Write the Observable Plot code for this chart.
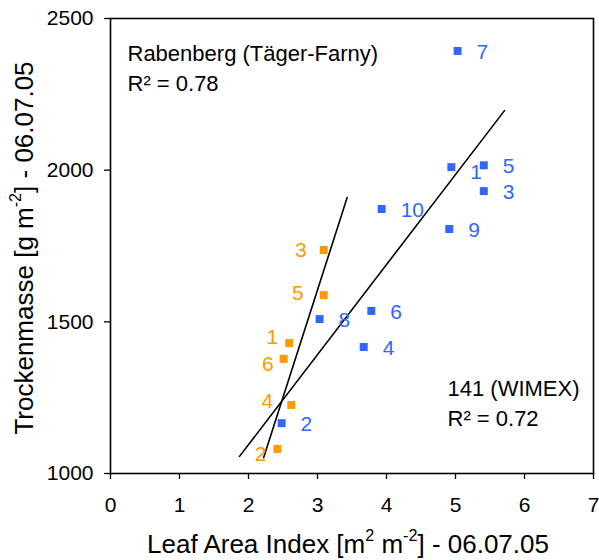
<!DOCTYPE html>
<html><head><meta charset="utf-8">
<script src="https://cdn.jsdelivr.net/npm/d3@7"></script>
<script src="https://cdn.jsdelivr.net/npm/@observablehq/plot@0.6"></script>
<style>
body{margin:0;background:#fff}
#chart{position:relative;width:599px;height:560px}
</style>
</head><body><div id="chart"></div>
<script>
// Rabenberg (Täger-Farny) – orange
const orangeIds  = [3, 5, 1, 6, 4, 2];
const orangeLAI  = [3.09, 3.09, 2.59, 2.51, 2.62, 2.42];
const orangeMass = [1737, 1588, 1430, 1378, 1226, 1081];
// 141 (WIMEX) – blue
const blueIds  = [7, 1, 5, 3, 10, 9, 8, 6, 4, 2];
const blueLAI  = [5.03, 4.94, 5.41, 5.41, 3.93, 4.91, 3.03, 3.78, 3.67, 2.48];
const blueMass = [2393, 2010, 2016, 1931, 1872, 1806, 1509, 1536, 1417, 1166];
// trend line x-extent (as drawn in the source)
const orangeTrendX = [2.22, 3.43];
const blueTrendX   = [1.87, 5.71];
// annotations
const groupNames = ["Rabenberg (Täger-Farny)", "141 (WIMEX)"];
const groupR2    = ["0.78", "0.72"];
// axes
const xTicks = [0, 1, 2, 3, 4, 5, 6, 7];
const yTicks = [1000, 1500, 2000, 2500];
const xTitle = ["Leaf Area Index [m", "2", " m", "-2", "] - 06.07.05"];
const yTitle = ["Trockenmasse [g m", "-2", "] - 06.07.05"];

const ORANGE = "#FF9900", BLUE = "#3366FF";
const FONT = "'Liberation Sans', Arial, Helvetica, sans-serif";

const orange = orangeIds.map((id, i) => ({id, x: orangeLAI[i], y: orangeMass[i]}));
const blue = blueIds.map((id, i) => ({id, x: blueLAI[i], y: blueMass[i]}));

// label nudges (pixel offsets, styling only)
const orangeNudge = {3: [-17, 0], 5: [-20, -2], 1: [-11, -6], 6: [-10, 5], 4: [-18, -4], 2: [-11, 5]};
const blueNudge = {1: [19, 5]};

function fit(pts) {
  const mx = d3.mean(pts, d => d.x), my = d3.mean(pts, d => d.y);
  const sxy = d3.sum(pts, d => (d.x - mx) * (d.y - my));
  const sxx = d3.sum(pts, d => (d.x - mx) ** 2);
  const b = sxy / sxx, a = my - b * mx;
  return x => a + b * x;
}
const fo = fit(orange), fb = fit(blue);
const orangeTrend = orangeTrendX.map(x => ({x, y: fo(x)}));
const blueTrend = blueTrendX.map(x => ({x, y: fb(x)}));

const orangeLabels = orange.map(d => {
  const [dx, dy] = orangeNudge[d.id] || [-14, 0];
  return Plot.text([d], {x: "x", y: "y", text: "id", fill: ORANGE, fontSize: 21, textAnchor: "end", dx, dy});
});
const blueLabels = blue.map(d => {
  const [dx, dy] = blueNudge[d.id] || [19, 1];
  return Plot.text([d], {x: "x", y: "y", text: "id", fill: BLUE, fontSize: 21, textAnchor: "start", dx, dy});
});

const chart = Plot.plot({
  width: 599, height: 560,
  marginLeft: 110, marginRight: 6, marginTop: 18, marginBottom: 87,
  style: {fontFamily: FONT, fontSize: "21px", color: "#000", background: "#fff", overflow: "visible"},
  x: {domain: [0, 7], label: null},
  y: {domain: [1000, 2500], label: null},
  marks: [
    Plot.axisX({ticks: xTicks, tickFormat: d3.format("d"), tickSize: 6, tickPadding: 18, label: null, fontSize: 21, strokeWidth: 1.3, stroke: "#000"}),
    Plot.axisY({ticks: yTicks, tickFormat: d3.format("d"), tickSize: 6, tickPadding: 11, label: null, fontSize: 21, strokeWidth: 1.3, stroke: "#000"}),
    Plot.line(orangeTrend, {x: "x", y: "y", stroke: "#000", strokeWidth: 1.6}),
    Plot.line(blueTrend, {x: "x", y: "y", stroke: "#000", strokeWidth: 1.6}),
    Plot.dot(orange, {x: "x", y: "y", symbol: "square", r: 4.5, fill: ORANGE, stroke: "none"}),
    Plot.dot(blue, {x: "x", y: "y", symbol: "square", r: 4.5, fill: BLUE, stroke: "none"}),
    ...orangeLabels,
    ...blueLabels,
    Plot.text([groupNames[0]], {frameAnchor: "top-left", text: d => d, dx: 17, dy: 35, textAnchor: "start", lineAnchor: "middle", fontSize: 22, fill: "#000"}),
    Plot.text([groupR2[0]], {frameAnchor: "top-left", text: d => "R² = " + d, dx: 17, dy: 65, textAnchor: "start", lineAnchor: "middle", fontSize: 22, fill: "#000"}),
    Plot.text([groupNames[1]], {frameAnchor: "top-left", text: d => d, dx: 337, dy: 370, textAnchor: "start", lineAnchor: "middle", fontSize: 22, fill: "#000"}),
    Plot.text([groupR2[1]], {frameAnchor: "top-left", text: d => "R² = " + d, dx: 337, dy: 400, textAnchor: "start", lineAnchor: "middle", fontSize: 22, fill: "#000"}),
    Plot.frame({stroke: "#000", strokeWidth: 1.6})
  ]
});

const svg = d3.select(chart);
function richText(parts, supIdx) {
  return function(sel) {
    parts.forEach((p, i) => {
      const sup = supIdx.includes(i);
      const prevSup = i > 0 && supIdx.includes(i - 1);
      const t = sel.append("tspan").text(p);
      if (sup) t.attr("font-size", "0.62em").attr("dy", "-0.72em");
      else if (prevSup) t.attr("dy", "0.45em");
    });
  };
}
svg.append("text")
  .attr("x", 348).attr("y", 553)
  .attr("text-anchor", "middle")
  .attr("font-family", FONT).attr("font-size", 26).attr("fill", "#000")
  .call(richText(xTitle, [1, 3]));
svg.append("text")
  .attr("transform", "translate(33,248) rotate(-90)")
  .attr("text-anchor", "middle")
  .attr("font-family", FONT).attr("font-size", 26).attr("fill", "#000")
  .call(richText(yTitle, [1]));

document.getElementById("chart").appendChild(chart);
</script>
</body></html>
